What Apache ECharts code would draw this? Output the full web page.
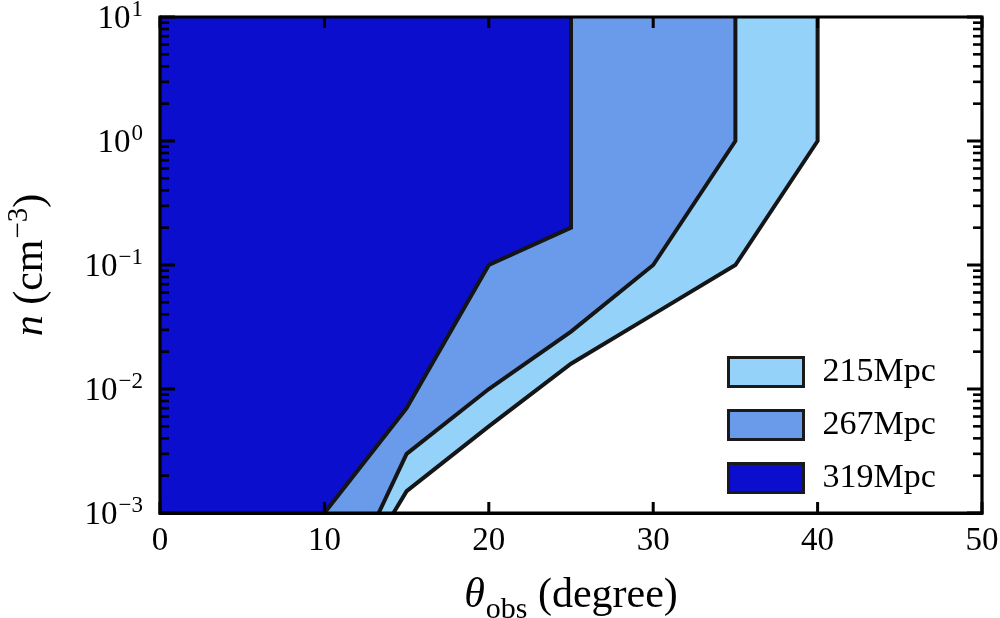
<!DOCTYPE html>
<html><head><meta charset="utf-8">
<script src="https://cdn.jsdelivr.net/npm/echarts@6/dist/echarts.min.js"></script>
<style>html,body{margin:0;padding:0;background:#fff}#c{width:1000px;height:618px}</style>
</head><body><div id="c"></div>
<script>
// Data: boundary (right edge) of each excluded region, theta_obs (deg) vs n (cm^-3)
const seriesNames = ['215Mpc', '267Mpc', '319Mpc'];
const theta215 = [14.2, 15, 20, 25, 30, 35, 40, 40];
const n215     = [0.001, 0.0015, 0.005, 0.016, 0.04, 0.1, 1, 10];
const theta267 = [13.3, 15, 20, 25, 30, 35, 35];
const n267     = [0.001, 0.003, 0.01, 0.029, 0.1, 1, 10];
const theta319 = [10, 15, 20, 25, 25];
const n319     = [0.001, 0.007, 0.1, 0.2, 10];
const xTicks = [0, 10, 20, 30, 40, 50];
const yMajor = [0.001, 0.01, 0.1, 1, 10];
const xMin = 0, xMax = 50, yMin = 0.001, yMax = 10;

const colors = ['#94d2f9', '#6a9bea', '#0b0ecc'];
const edge = '#151515';
const FONT = 'Liberation Serif';

function regionSeries(name, xs, ys, color) {
  const pts = xs.map((x, i) => [x, ys[i]]);
  return {
    name: name, type: 'custom', coordinateSystem: 'cartesian2d', z: 2,
    itemStyle: { color: color, borderColor: edge, borderWidth: 3 },
    data: [0],
    clip: true,
    renderItem: function (params, api) {
      const bnd = pts.map(p => api.coord(p));
      const poly = bnd.concat([api.coord([xMin, yMax]), api.coord([xMin, yMin])]);
      return {
        type: 'group', children: [
          { type: 'polygon', shape: { points: poly }, style: { fill: color, stroke: null } },
          { type: 'polyline', shape: { points: bnd }, style: { stroke: edge, lineWidth: 4, fill: null, lineJoin: 'miter' } }
        ]
      };
    }
  };
}

// tick positions for the log axis (minor 2..9 x 10^k)
const minorVals = [];
for (let e = -3; e < 1; e++) for (let m = 2; m <= 9; m++) minorVals.push(m * Math.pow(10, e));

function supFmt(v) {
  const e = Math.round(Math.log10(v));
  return '{b|10}{s|' + (e < 0 ? '\u2212' + (-e) : String(e)) + '}';
}

// frame + inward ticks (filled bars) drawn on top of the filled regions
const frameSeries = {
  type: 'custom', coordinateSystem: 'cartesian2d', silent: true, z: 30,
  data: [0], clip: false,
  renderItem: function (params, api) {
    const ch = [];
    function bar(x, y, w, h) {
      ch.push({ type: 'rect', shape: { x: x, y: y, width: w, height: h }, style: { fill: '#000', stroke: null } });
    }
    minorVals.forEach(v => {
      const l = api.coord([xMin, v]), r = api.coord([xMax, v]);
      bar(l[0], l[1] - 1.3, 9, 2.6);
      bar(r[0] - 9, r[1] - 1.3, 9, 2.6);
    });
    yMajor.forEach(v => {
      const l = api.coord([xMin, v]), r = api.coord([xMax, v]);
      bar(l[0], l[1] - 1.5, 15, 3);
      bar(r[0] - 15, r[1] - 1.5, 15, 3);
    });
    xTicks.forEach(x => {
      const b = api.coord([x, yMin]), t = api.coord([x, yMax]);
      bar(b[0] - 1.5, b[1] - 11, 3, 11);
      bar(t[0] - 1.5, t[1], 3, 11);
    });
    const p0 = api.coord([xMin, yMax]), p1 = api.coord([xMax, yMin]);
    ch.push({ type: 'rect', shape: { x: p0[0], y: p0[1], width: p1[0] - p0[0], height: p1[1] - p0[1] },
      style: { fill: null, stroke: '#000', lineWidth: 3.2 } });
    return { type: 'group', children: ch };
  }
};

const chart = echarts.init(document.getElementById('c'), null, { renderer: 'canvas' });
const axisLineStyle = { color: '#000', width: 3 };
chart.setOption({
  animation: false,
  backgroundColor: '#fff',
  grid: { left: 160, right: 18, top: 17, bottom: 105, outerBoundsMode: 'none', containLabel: false },
  legend: {
    orient: 'vertical', left: 722, top: 350,
    itemWidth: 75, itemHeight: 29, itemGap: 19,
    itemStyle: { borderColor: '#1a1a1a', borderWidth: 3 },
    icon: 'rect',
    textStyle: { fontFamily: FONT, fontSize: 34, color: '#000', padding: [0, 0, 0, 14] },
    data: seriesNames
  },
  xAxis: [{
    type: 'value', min: xMin, max: xMax, interval: 10, position: 'bottom',
    axisLine: { show: true, lineStyle: axisLineStyle },
    axisTick: { show: false },
    axisLabel: { fontFamily: FONT, fontSize: 33, color: '#000', margin: 12,
      customValues: xTicks },
    splitLine: { show: false },
    name: '{i|\u03b8}{s|obs}{n| (degree)}', nameLocation: 'middle', nameGap: 62,
    nameTextStyle: { rich: {
      i: { fontFamily: FONT, fontStyle: 'italic', fontSize: 42, color: '#000', verticalAlign: 'bottom', padding: [0, 0, 8, 0] },
      s: { fontFamily: FONT, fontSize: 30, color: '#000', verticalAlign: 'bottom', padding: [0, 0, 0, 1] },
      n: { fontFamily: FONT, fontSize: 42, color: '#000', verticalAlign: 'bottom', padding: [0, 0, 8, 0] }
    } }
  }],
  yAxis: [{
    type: 'log', min: yMin, max: yMax, logBase: 10, position: 'left',
    axisLine: { show: true, lineStyle: axisLineStyle },
    axisTick: { show: false },
    minorTick: { show: false },
    splitLine: { show: false },
    axisLabel: { margin: 17, formatter: supFmt, rich: {
      b: { fontFamily: FONT, fontSize: 33, color: '#000', verticalAlign: 'bottom' },
      s: { fontFamily: FONT, fontSize: 23, color: '#000', verticalAlign: 'bottom', padding: [0, 0, 14, 1] }
    } },
    name: '{i|n}{n| (cm}{s|\u22123}{n|)}', nameLocation: 'middle', nameGap: 108, nameRotate: 90,
    nameTextStyle: { rich: {
      i: { fontFamily: FONT, fontStyle: 'italic', fontSize: 42, color: '#000', verticalAlign: 'bottom' },
      n: { fontFamily: FONT, fontSize: 42, color: '#000', verticalAlign: 'bottom' },
      s: { fontFamily: FONT, fontSize: 29, color: '#000', verticalAlign: 'bottom', padding: [0, 0, 18, 1] }
    } }
  }],
  series: [
    regionSeries(seriesNames[0], theta215, n215, colors[0]),
    regionSeries(seriesNames[1], theta267, n267, colors[1]),
    regionSeries(seriesNames[2], theta319, n319, colors[2]),
    frameSeries
  ]
});
</script></body></html>
